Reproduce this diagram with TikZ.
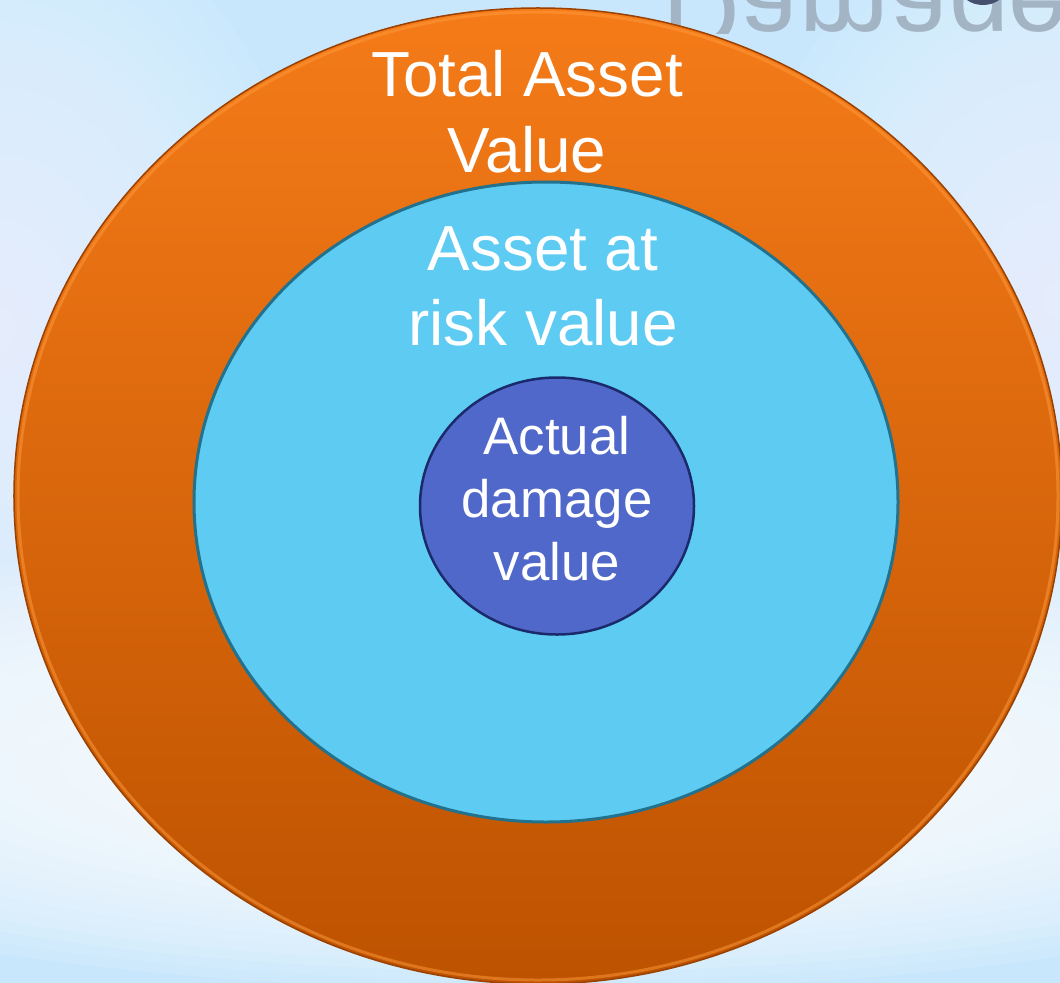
\documentclass[tikz,border=0pt]{standalone}
\usepackage{fontspec}
\setmainfont{Liberation Sans}
\usetikzlibrary{shapes.geometric}
\definecolor{bgblue}{HTML}{B8DEFA}
\definecolor{bgside}{HTML}{C9E7FC}
\definecolor{ringtop}{HTML}{F57B18}
\definecolor{ringbottom}{HTML}{BD5200}
\definecolor{ringedge}{HTML}{9A4000}
\definecolor{ringshine}{HTML}{FF9A3C}
\definecolor{riskfill}{HTML}{5ECBF3}
\definecolor{riskedge}{HTML}{22718D}
\definecolor{damagefill}{HTML}{5068C9}
\definecolor{damageedge}{HTML}{1B2A6B}
\definecolor{ghost}{HTML}{A3B4C4}
\definecolor{blob}{HTML}{474F6E}
\tikzstyle{region} = [ellipse, inner sep=0pt, outer sep=0pt]
\tikzstyle{outerring} = [region, top color=ringtop, bottom color=ringbottom, draw=ringedge, line width=1.5bp]
\tikzstyle{riskring} = [region, fill=riskfill, draw=riskedge, line width=3bp]
\tikzstyle{damagering} = [region, fill=damagefill, draw=damageedge, line width=2.5bp]
\tikzstyle{caption} = [text=white, align=center, inner sep=0pt, anchor=north]
\tikzstyle{bigcap} = [caption, font=\fontsize{64}{76}\selectfont]
\tikzstyle{smallcap} = [caption, font=\fontsize{53}{63.5}\selectfont]
\begin{document}
\begin{tikzpicture}[x=1bp, y=-1bp]

	\useasboundingbox (0,0) rectangle (1060,983);

	% backdrop
	\fill[left color=bgside, middle color=bgblue, right color=bgside] (0,0) rectangle (1060,983);
	\foreach \k in {1,...,20}{
		\fill[white, opacity=.05] (0,330) ellipse [x radius=16*\k, y radius=22*\k];
		\fill[white, opacity=.05] (1060,300) ellipse [x radius=16*\k, y radius=20*\k];
	}
	\foreach \k in {1,...,25}{
		\fill[white, opacity=.1] (540,760) ellipse [x radius=40*\k, y radius=9.2*\k];
	}

	% mirrored title peeking in at the top
	\begin{scope}
		\clip (600,0) rectangle (1060,33);
		\node[yscale=-1, anchor=base west, inner sep=0pt, text=ghost, font=\fontsize{108}{120}\selectfont] (ghost) at (662,-26) {Damage};
	\end{scope}
	\fill[blob] (983,-11) ellipse [x radius=22, y radius=16];

	% nested regions
	\node[outerring, minimum width=1048bp, minimum height=976bp] (total) at (538,496) {};
	\draw[ringshine, line width=3bp, opacity=.5] (total.center) ellipse [x radius=520, y radius=484];
	\node[riskring, minimum width=704bp, minimum height=640bp] (risk) at (546,502) {};
	\node[damagering, minimum width=274bp, minimum height=257bp] (damage) at (557,506) {};

	% labels
	\node[bigcap] (totallabel) at (527,50) {Total Asset\\Value};
	\node[bigcap] (risklabel) at (543,226) {Asset at\\risk value};
	\node[smallcap] (damagelabel) at (557,416) {Actual\\damage\\value};

\end{tikzpicture}
\end{document}
